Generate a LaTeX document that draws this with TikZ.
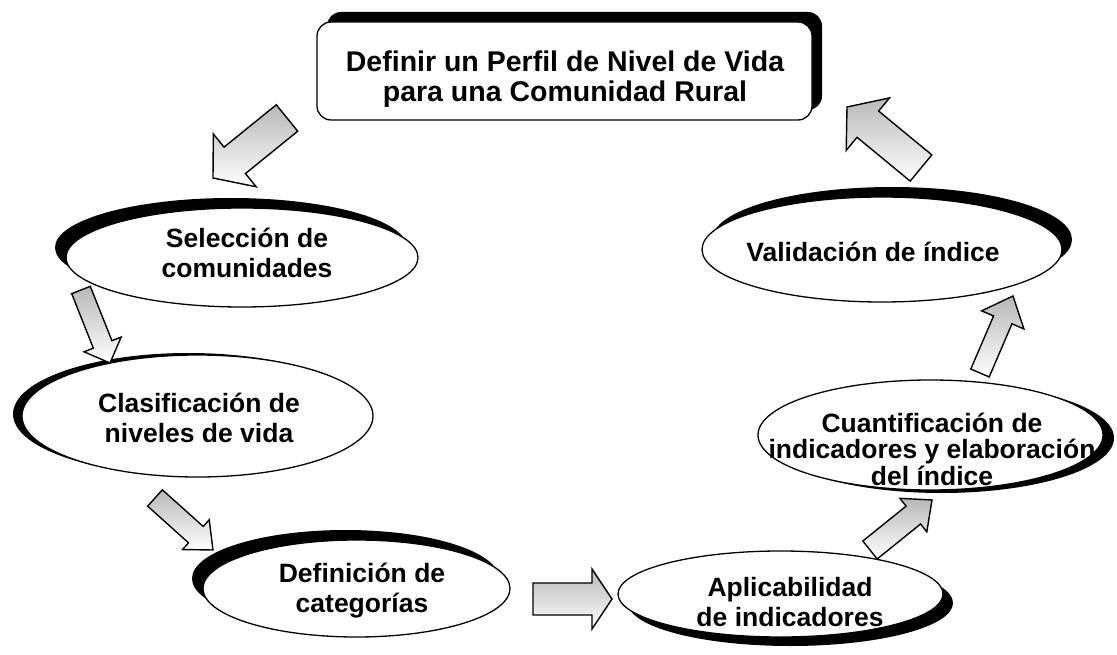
\documentclass[tikz,border=0pt]{standalone}
\usepackage{fontspec}
\setmainfont{Liberation Sans}
\usetikzlibrary{shapes.geometric,shadows,calc}
\tikzset{
  ell/.style={ellipse, draw=black, line width=1.3pt, fill=white, inner sep=0pt},
  txt/.style={align=center, font=\bfseries\fontsize{26.5}{30}\selectfont, inner sep=0pt},
  barrow/.style={draw=black, line width=1.4pt, top color=black!28, bottom color=white, line join=miter},
  blk/.style={general shadow={fill=black, draw=none, #1}},
}
% #1 tail, #2 tip, #3 half shaft, #4 half head, #5 head length
\newcommand\blockarrow[5]{%
  \coordinate (#2-b) at ($(#2)!#5!(#1)$);
  \draw[barrow] ($(#1)!#3!90:(#2)$) -- ($(#2-b)!#3!90:(#2)$) -- ($(#2-b)!#4!90:(#2)$) -- (#2)
    -- ($(#2-b)!#4!-90:(#2)$) -- ($(#2-b)!#3!-90:(#2)$) -- ($(#1)!#3!-90:(#2)$) -- cycle;
}
\begin{document}
\begin{tikzpicture}[x=1pt,y=-1pt]
\useasboundingbox (0,0) rectangle (1117,655);

% top box
\node[draw=black, line width=1.3pt, fill=white, rounded corners=14pt, minimum width=495pt, minimum height=98pt,
      blk={shadow xshift=10pt, shadow yshift=10pt}] (top) at (564.5,71) {};
\node[align=center, inner sep=0pt, font=\bfseries\fontsize{28.5}{30}\selectfont] (toptxt) at (565,79)
  {Definir un Perfil de Nivel de Vida\\para una Comunidad Rural};

% ellipses
\node[ell, minimum width=352pt, minimum height=99pt, blk={shadow xshift=-11pt, shadow yshift=10pt}] (e1) at (242,257.5) {};
\node[txt] (t1) at (247,253) {Selección de\\comunidades};

\node[ell, minimum width=351pt, minimum height=122pt, blk={shadow xshift=-9pt, shadow yshift=2pt}] (e2) at (197.5,416) {};
\node[txt] (t2) at (199,418) {Clasificación de\\niveles de vida};

\node[ell, minimum width=307pt, minimum height=97pt, blk={shadow xshift=-11pt, shadow yshift=10pt}] (e3) at (356.5,588.5) {};
\node[txt] (t3) at (362,591) {Definición de\\categorías};

\node[ell, minimum width=325pt, minimum height=86pt, blk={shadow xshift=10pt, shadow yshift=-9pt}] (e4) at (780.5,594) {};
\node[txt] (t4) at (790,602) {Aplicabilidad\\de indicadores};

\node[ell, minimum width=345pt, minimum height=110pt, blk={shadow xshift=11pt, shadow yshift=-3pt}] (e5) at (930.5,435) {};
\node[txt, font=\bfseries\fontsize{26.5}{26.5}\selectfont] (t5) at (932,449) {Cuantificación de\\indicadores y elaboración\\del índice};

\node[ell, minimum width=360pt, minimum height=105pt, blk={shadow xshift=10pt, shadow yshift=10pt}] (e6) at (882,249.5) {};
\node[txt] (t6) at (873,252) {Validación de índice};

% arrow end points
\coordinate (a1s) at (287,118);  \coordinate (a1e) at (213,178);
\coordinate (a2s) at (81,290);   \coordinate (a2e) at (110,363);
\coordinate (a3s) at (155,498);  \coordinate (a3e) at (213,550);
\coordinate (a4s) at (533,599);  \coordinate (a4e) at (612,599);
\coordinate (a5s) at (870,550);  \coordinate (a5e) at (932,500);
\coordinate (a6s) at (980,373);  \coordinate (a6e) at (1013,296);
\coordinate (a7s) at (921,168);  \coordinate (a7e) at (847,107);

\blockarrow{a1s}{a1e}{17pt}{34pt}{28pt}
\blockarrow{a2s}{a2e}{10pt}{20pt}{20pt}
\blockarrow{a3s}{a3e}{11pt}{20pt}{23pt}
\blockarrow{a4s}{a4e}{16pt}{30pt}{20pt}
\blockarrow{a5s}{a5e}{11.5pt}{21.5pt}{24pt}
\blockarrow{a6s}{a6e}{10pt}{23pt}{26pt}
\blockarrow{a7s}{a7e}{17pt}{34pt}{27pt}
\end{tikzpicture}
\end{document}
